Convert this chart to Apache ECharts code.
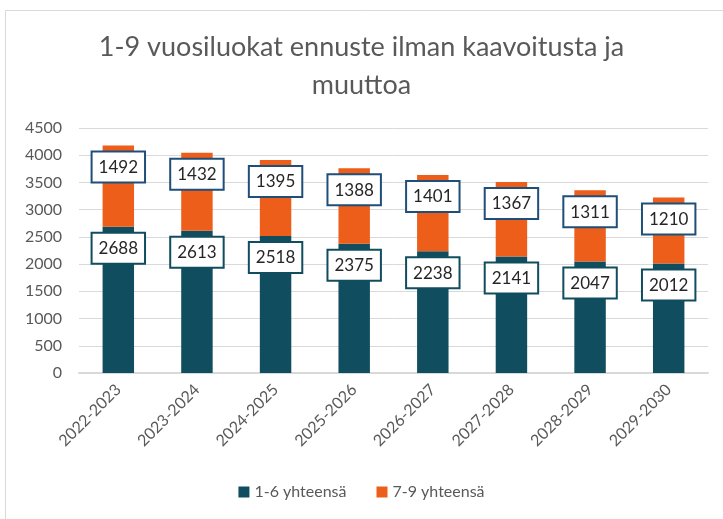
<!DOCTYPE html>
<html><head><meta charset="utf-8">
<script src="https://cdn.jsdelivr.net/npm/echarts@6/dist/echarts.min.js"></script>
<style>html,body{margin:0;padding:0;background:#fff}#c{width:723px;height:519px}</style>
</head><body><div id="c"></div>
<script>
const categories = ['2022-2023','2023-2024','2024-2025','2025-2026','2026-2027','2027-2028','2028-2029','2029-2030'];
const grades16 = [2688,2613,2518,2375,2238,2141,2047,2012];
const grades79 = [1492,1432,1395,1388,1401,1367,1311,1210];
const yTicks = [0,500,1000,1500,2000,2500,3000,3500,4000,4500];
const FONT = 'Lato, "Open Sans", sans-serif';
const chart = echarts.init(document.getElementById('c'));
function lbl(border){
  return {show:true, position:'insideTop', distance:7, color:'#262626', fontFamily:FONT, fontSize:17,
    backgroundColor:'#fff', borderColor:border, borderWidth:2, padding:[4,6,3,6], lineHeight:22};
}
chart.setOption({
  animation:false,
  graphic:[{type:'rect', shape:{x:5.5,y:10.5,width:730,height:520}, style:{fill:'none', stroke:'#d9d9d9', lineWidth:1}, silent:true}],
  title:{text:'1-9 vuosiluokat ennuste ilman kaavoitusta ja\nmuuttoa', left:'center', top:23,
    textStyle:{fontFamily:FONT, fontSize:27, fontWeight:'normal', color:'#595959', lineHeight:38}},
  legend:{bottom:14, left:'center', itemWidth:11, itemHeight:11, itemGap:30, icon:'rect',
    textStyle:{fontFamily:FONT, fontSize:16, color:'#595959'}},
  grid:{left:79, right:15, top:128, bottom:146},
  xAxis:{type:'category', data:categories,
    axisLine:{lineStyle:{color:'#d9d9d9', width:2}}, axisTick:{show:false},
    axisLabel:{rotate:45, fontFamily:FONT, fontSize:16, color:'#595959', margin:14}},
  yAxis:{type:'value', min:yTicks[0], max:yTicks[yTicks.length-1], interval:500,
    axisLine:{show:false}, axisTick:{show:false},
    splitLine:{lineStyle:{color:'#d9d9d9', width:1}},
    axisLabel:{fontFamily:FONT, fontSize:16, color:'#595959', margin:17, formatter:v=>String(v)}},
  series:[
    {name:'1-6 yhteensä', type:'bar', stack:'t', data:grades16, barWidth:'40%', itemStyle:{color:'#104D5E'}, label:lbl('#104D5E')},
    {name:'7-9 yhteensä', type:'bar', stack:'t', data:grades79, barWidth:'40%', itemStyle:{color:'#EC5E1A'}, label:lbl('#1F4E79')}
  ]
});
</script></body></html>
